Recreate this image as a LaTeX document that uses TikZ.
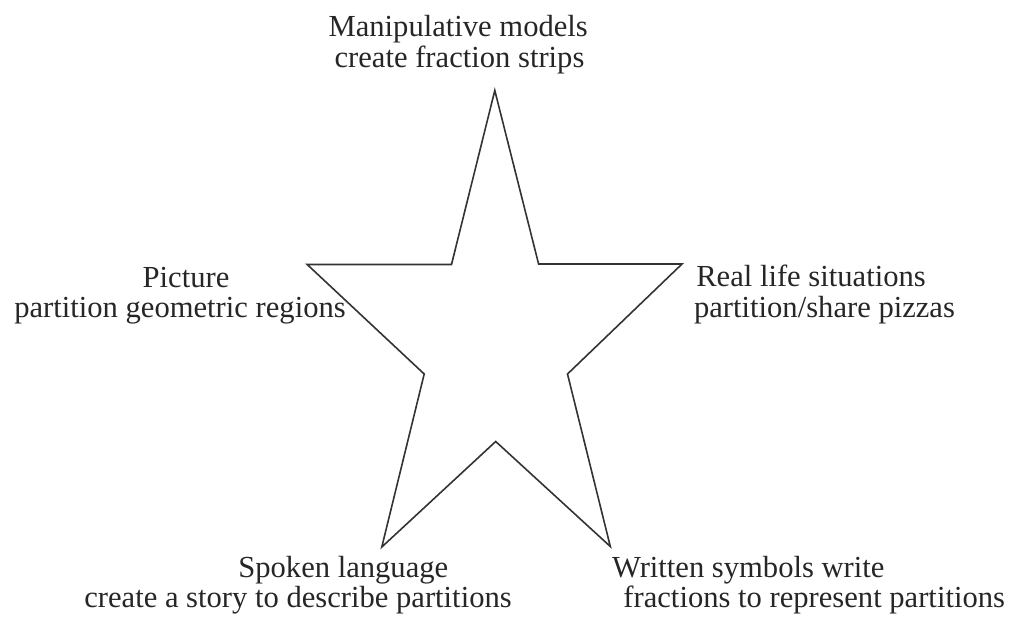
\documentclass[tikz,border=0pt]{standalone}
\usepackage{fontspec}
\setmainfont{Liberation Serif}
\begin{document}
\begin{tikzpicture}[x=1pt,y=-1pt,
  lbl/.style={anchor=base,inner sep=0pt,font=\fontsize{30.6}{31}\selectfont,text=black!85},
  starline/.style={draw=black!80,line width=1.6pt,line join=miter}]
\useasboundingbox (0,0) rectangle (1014,620);
% star vertices
\coordinate (top) at (494.8,90.5);
\coordinate (itr) at (538.6,264);
\coordinate (rp)  at (682,264);
\coordinate (ir)  at (567.5,374);
\coordinate (br)  at (610.3,546.5);
\coordinate (ib)  at (495.7,441.5);
\coordinate (bl)  at (381.8,547);
\coordinate (il)  at (424.2,374);
\coordinate (lp)  at (307.2,264.5);
\coordinate (itl) at (451.5,264.5);
\draw[starline] (top) -- (itr) -- (rp) -- (ir) -- (br) -- (ib) -- (bl) -- (il) -- (lp) -- (itl) -- cycle;
% labels
\node[lbl] (t1) at (458.2,36.7) {Manipulative models};
\node[lbl] (t2) at (459.5,67.7) {create fraction strips};
\node[lbl] (l1) at (186,287.3) {Picture};
\node[lbl] (l2) at (180,317.5) {partition geometric regions};
\node[lbl] (r1) at (811,286.7) {Real life situations};
\node[lbl] (r2) at (824.5,317) {partition/share pizzas};
\node[lbl] (b1) at (343.3,577.5) {Spoken language};
\node[lbl] (b2) at (298,607.5) {create a story to describe partitions};
\node[lbl] (w1) at (748.3,577) {Written symbols write};
\node[lbl] (w2) at (814.2,607) {fractions to represent partitions};
\end{tikzpicture}
\end{document}
